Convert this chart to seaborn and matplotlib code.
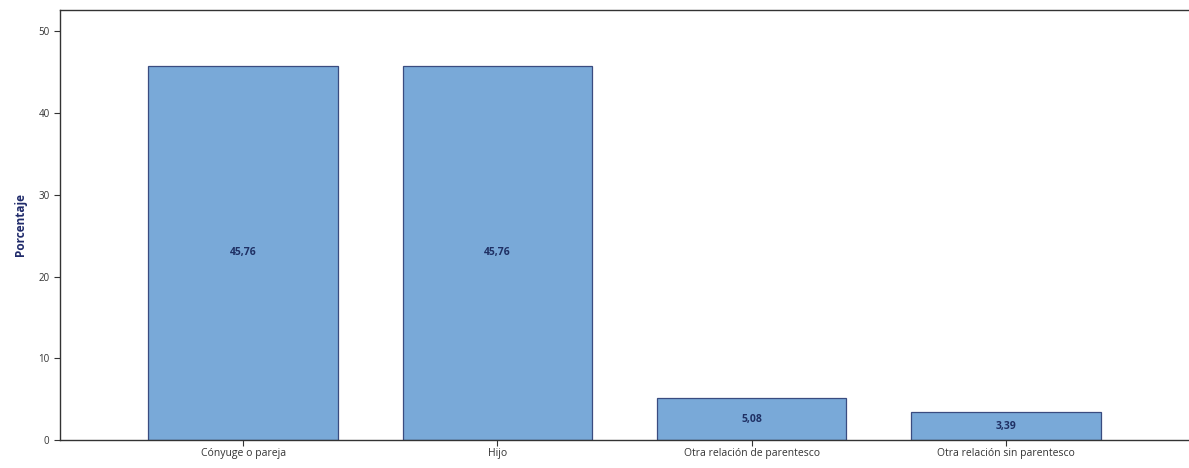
import matplotlib
matplotlib.use("Agg")
from matplotlib import pyplot as plt
import pandas as pd
import seaborn as sns

categories = ["Cónyuge o pareja", "Hijo", "Otra relación de parentesco", "Otra relación sin parentesco"]
percentages = [45.76, 45.76, 5.08, 3.39]
value_labels = ["45,76", "45,76", "5,08", "3,39"]

sns.set_style("white")
plt.rcParams["font.family"] = ["Open Sans", "DejaVu Sans"]

df = pd.DataFrame({"Relacion": categories, "Porcentaje": percentages})

fig = plt.figure(figsize=(11.89, 4.68), dpi=100)
ax = fig.add_axes([60 / 1189, 28 / 468, 1 - 60 / 1189, 430 / 468])

sns.barplot(ax=ax, data=df, x="Relacion", y="Porcentaje", color="#79a9d8",
            saturation=1, width=0.746, edgecolor="#3a4c80", linewidth=0.9)

for i, (v, lab) in enumerate(zip(percentages, value_labels)):
    ax.text(i, v / 2, lab, ha="center", va="center", fontsize=7.5,
            fontweight="bold", color="#1f3064")

ax.set_xlim(-0.72, 3.72)
ax.set_ylim(0, 52.6)
ax.set_yticks([0, 10, 20, 30, 40, 50])
ax.set_xlabel("")
ax.set_ylabel("Porcentaje", fontsize=8.5, fontweight="bold", color="#1f2a6a", labelpad=8)
ax.tick_params(axis="both", direction="out", length=4, width=0.8, color="#333333",
               labelsize=7, labelcolor="#333333", bottom=True, left=True)
ax.tick_params(axis="x", labelsize=7.5, pad=2)

for side in ["left", "bottom", "top"]:
    ax.spines[side].set_color("#333333")
    ax.spines[side].set_linewidth(1.0)
ax.spines["right"].set_visible(False)

fig.savefig("out.png", dpi=100)
